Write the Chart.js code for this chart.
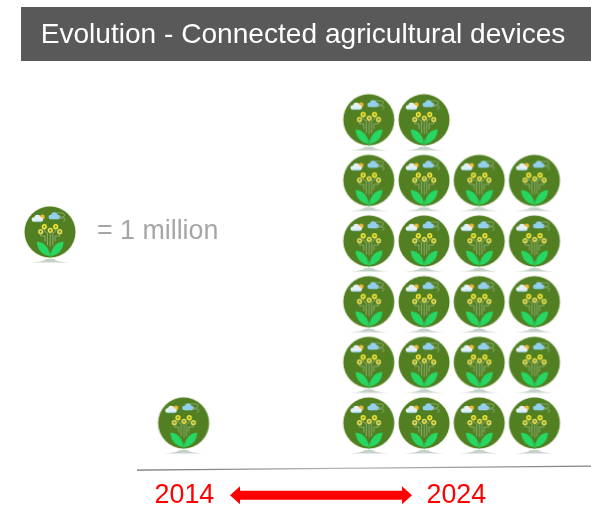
<!DOCTYPE html>
<html>
<head>
<meta charset="utf-8">
<style>html,body{margin:0;padding:0;background:#fff}canvas{display:block}</style>
<script src="https://cdn.jsdelivr.net/npm/chart.js@4"></script>
</head>
<body>
<canvas id="c" width="591" height="509"></canvas>
<script>
const titleText = "Evolution - Connected agricultural devices";
const years = ["2014", "2024"];
const devicesMillions = [1, 22];
const keyLabel = "= 1 million";
const keyValue = [1];
const iconsPerRow = [1, 4];
const groupStartCol = [0, 3.355];
const yearTickCol = [0.015, 4.94];

function makeIcon() {
  const cv = document.createElement('canvas');
  cv.width = 60; cv.height = 66;
  const g = cv.getContext('2d');
  g.translate(30, 33);
  // shadow
  g.fillStyle = '#c6d1c9';
  g.beginPath();
  g.moveTo(-19.5, 30.6);
  g.quadraticCurveTo(-6, 29.6, -4, 27);
  g.lineTo(4, 27);
  g.quadraticCurveTo(6, 29.6, 19.5, 30.6);
  g.closePath();
  g.fill();
  // disc
  g.fillStyle = '#e3ecd6';
  g.beginPath(); g.arc(0, 0, 26.2, 0, Math.PI * 2); g.fill();
  g.fillStyle = '#517f22';
  g.beginPath(); g.arc(0, 0, 25.4, 0, Math.PI * 2); g.fill();
  // circuit traces
  g.strokeStyle = '#a9c190'; g.lineWidth = 0.7; g.lineCap = 'round';
  const traces = [
    [[-9.3, 1.5], [-9.3, 4], [-5, 4], [-5, 9]],
    [[9.7, 1.5], [9.7, 4], [5, 4], [5, 9]],
    [[-5.7, -3.5], [-5.7, -1], [-2.6, 1], [-2.6, 13]],
    [[5.7, -3.5], [5.7, -1], [2.8, 1], [2.8, 13]],
    [[0.2, 0], [0.2, 14]]
  ];
  traces.forEach(t => {
    g.beginPath();
    t.forEach((p, i) => i ? g.lineTo(p[0], p[1]) : g.moveTo(p[0], p[1]));
    g.stroke();
  });
  // flowers
  [[-5.7, -5.3], [5.7, -5.3], [0.3, -1.7], [-9.3, -0.3], [9.7, -0.3]].forEach((p, i) => {
    g.fillStyle = i < 2 ? '#f5e835' : '#e6dc5a';
    g.beginPath(); g.arc(p[0], p[1], 2.6, 0, Math.PI * 2); g.fill();
    g.fillStyle = '#6f8f2a';
    g.beginPath(); g.arc(p[0], p[1], 1.1, 0, Math.PI * 2); g.fill();
  });
  // leaves
  g.fillStyle = '#27d763';
  g.beginPath();
  g.moveTo(-0.3, 24);
  g.bezierCurveTo(-8, 23, -13, 17, -13.3, 9.4);
  g.bezierCurveTo(-6, 10, -0.8, 15, -0.3, 24);
  g.fill();
  g.beginPath();
  g.moveTo(0.8, 24);
  g.bezierCurveTo(8.5, 23, 13.5, 17, 13.6, 9.4);
  g.bezierCurveTo(6.5, 10, 1.3, 15, 0.8, 24);
  g.fill();
  g.strokeStyle = '#27d763'; g.lineWidth = 1;
  g.beginPath(); g.moveTo(0.2, 20); g.lineTo(0.2, 26); g.stroke();
  // sun and cloud
  g.fillStyle = '#f2b632';
  g.beginPath(); g.arc(-7.6, -15, 2.4, 0, Math.PI * 2); g.fill();
  const cloud = (x, y, col) => {
    g.fillStyle = col;
    g.beginPath();
    g.arc(x - 3.6, y + 1, 2.3, 0, Math.PI * 2);
    g.arc(x, y - 0.6, 3.2, 0, Math.PI * 2);
    g.arc(x + 3.4, y + 1, 2.3, 0, Math.PI * 2);
    g.fill();
    g.fillRect(x - 3.6, y + 0.5, 7, 2.8);
  };
  cloud(-12.5, -13.5, '#e4f1f5');
  g.fillStyle = '#9fd0ec';
  g.fillRect(-16, -11.2, 7, 1.3);
  cloud(4.4, -16, '#93cfee');
  // wind
  g.strokeStyle = '#9db88c'; g.lineWidth = 0.7;
  g.beginPath(); g.moveTo(7, -19); g.lineTo(12, -19); g.arc(12.5, -17, 2, -1.5, 1.5); g.lineTo(9, -15); g.stroke();
  g.beginPath(); g.moveTo(9, -14); g.lineTo(13, -14); g.arc(13.4, -12.3, 1.7, -1.5, 1.5); g.stroke();
  return cv;
}
const icon = makeIcon();

function unitPoints(count, perRow, startCol) {
  const pts = [];
  for (let i = 0; i < count; i++) {
    pts.push({ x: startCol + (i % perRow), y: Math.floor(i / perRow) });
  }
  return pts;
}

const baseStyle = { showLine: false, pointStyle: icon, pointRadius: 26, pointHoverRadius: 26, clip: false };
const datasets = years.map((y, i) => Object.assign({
  label: y,
  data: unitPoints(devicesMillions[i], iconsPerRow[i], groupStartCol[i])
}, baseStyle));
datasets.push(Object.assign({
  label: keyLabel,
  data: keyValue.map(() => ({ x: -2.42, y: 3.15 }))
}, baseStyle));

const decor = {
  id: 'decor',
  beforeDraw(chart) {
    const g = chart.ctx;
    g.save();
    g.fillStyle = '#595959';
    g.fillRect(21, 7, 570, 54);
    g.restore();
  },
  afterDraw(chart) {
    const g = chart.ctx;
    g.save();
    // key text
    g.fillStyle = '#a6a6a6';
    g.font = '26.8px "Liberation Sans"';
    g.textAlign = 'left'; g.textBaseline = 'middle';
    g.fillText(keyLabel, 97, 231.5);
    // baseline
    const lg = g.createLinearGradient(137, 0, 591, 0);
    lg.addColorStop(0, '#707070'); lg.addColorStop(0.45, '#b5b5b5'); lg.addColorStop(1, '#808080');
    g.strokeStyle = lg; g.lineWidth = 1.2;
    g.beginPath(); g.moveTo(137, 470.2); g.lineTo(591, 466.2); g.stroke();
    // double arrow
    const l = 230, r = 412, m = 495.3, hl = 10, hw = 9, sw = 4.5;
    g.fillStyle = '#ff0000';
    g.beginPath();
    g.moveTo(l, m); g.lineTo(l + hl, m - hw); g.lineTo(l + hl, m - sw);
    g.lineTo(r - hl, m - sw); g.lineTo(r - hl, m - hw); g.lineTo(r, m);
    g.lineTo(r - hl, m + hw); g.lineTo(r - hl, m + sw); g.lineTo(l + hl, m + sw);
    g.lineTo(l + hl, m + hw); g.closePath(); g.fill();
    g.restore();
  }
};

new Chart(document.getElementById('c'), {
  type: 'scatter',
  data: { datasets },
  plugins: [decor],
  options: {
    responsive: false,
    animation: false,
    events: [],
    layout: { autoPadding: false, padding: { left: 15, right: 0, top: 0, bottom: 0 } },
    plugins: {
      legend: { display: false },
      tooltip: { enabled: false },
      title: {
        display: true,
        text: titleText,
        color: '#ffffff',
        font: { family: '"Liberation Sans"', size: 28.1, weight: 'normal', lineHeight: 1.2 },
        padding: { top: 18, bottom: 9 }
      }
    },
    scales: {
      x: {
        type: 'linear',
        min: -3.054,
        max: 7.38,
        grid: { display: false, drawTicks: false },
        border: { display: false },
        afterBuildTicks(s) { s.ticks = yearTickCol.map(v => ({ value: v })); },
        afterFit(s) { s.height = 30; s.paddingLeft = 0; s.paddingRight = 0; },
        ticks: {
          autoSkip: false,
          maxRotation: 0,
          padding: 1,
          color: '#ff0000',
          font: { family: '"Liberation Sans"', size: 26.8 },
          callback(v, i) { return years[i]; }
        }
      },
      y: {
        type: 'linear',
        display: false,
        min: -0.924,
        max: 5.974
      }
    }
  }
});
</script>
</body>
</html>
